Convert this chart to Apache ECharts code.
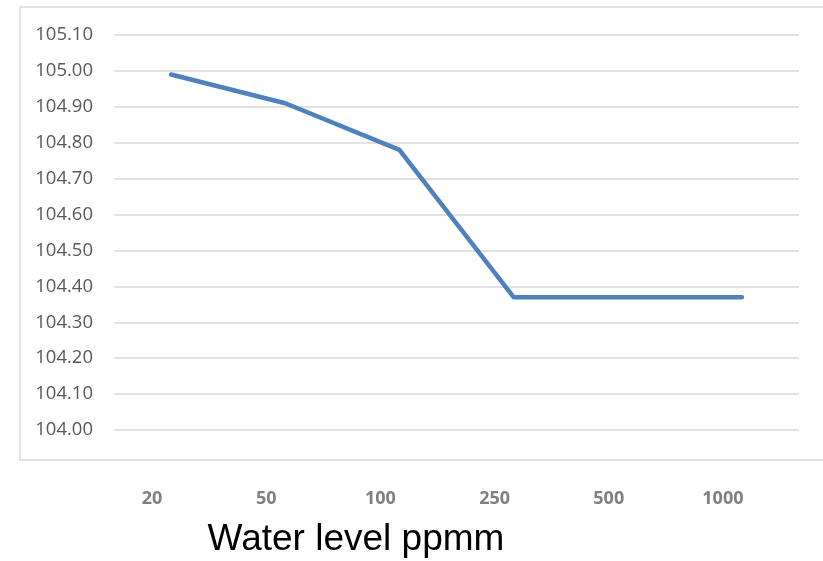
<!DOCTYPE html>
<html>
<head>
<meta charset="utf-8">
<script src="https://cdn.jsdelivr.net/npm/echarts@6/dist/echarts.min.js"></script>
<style>
  html, body { margin: 0; padding: 0; background: #ffffff; }
  #chart { width: 823px; height: 561px; }
</style>
</head>
<body>
<div id="chart"></div>
<script>
// Water level categories (ppmm) and measured values
const waterLevels = ['20', '50', '100', '250', '500', '1000'];
const measuredValues = [104.99, 104.91, 104.78, 104.37, 104.37, 104.37];
const yMin = 104.0;
const yMax = 105.1;
const yStep = 0.1;
const axisTitle = 'Water level ppmm';

const chart = echarts.init(document.getElementById('chart'), null, { renderer: 'canvas' });

chart.setOption({
  backgroundColor: '#ffffff',
  animation: false,
  grid: { left: 114, right: 24, top: 35, bottom: 131 },
  xAxis: {
    type: 'category',
    data: waterLevels,
    boundaryGap: true,
    axisLine: { show: false },
    axisTick: { show: false },
    axisLabel: {
      margin: 60,
      padding: [0, 38, 0, 0],
      color: '#7f7f7f',
      fontFamily: 'Open Sans',
      fontWeight: 'bold',
      fontSize: 18
    },
    splitLine: { show: false }
  },
  yAxis: {
    type: 'value',
    min: yMin,
    max: yMax,
    interval: yStep,
    axisLine: { show: false },
    axisTick: { show: false },
    axisLabel: {
      margin: 21,
      color: '#595959',
      fontFamily: 'Open Sans',
      fontSize: 18.5,
      formatter: v => v.toFixed(2)
    },
    splitLine: { lineStyle: { color: '#d9d9d9', width: 1.5 } }
  },
  series: [{
    type: 'line',
    data: measuredValues,
    symbol: 'none',
    lineStyle: { color: '#4f81bd', width: 4.5, cap: 'round', join: 'round' }
  }],
  graphic: [
    {
      type: 'rect',
      shape: { x: 20, y: 7, width: 812, height: 453 },
      style: { fill: 'none', stroke: '#d9d9d9', lineWidth: 1.5 },
      silent: true,
      z: -1
    },
    {
      type: 'text',
      x: 356,
      y: 540,
      style: {
        text: axisTitle,
        fill: '#000000',
        font: '37px "Liberation Sans", Arial, sans-serif',
        align: 'center',
        verticalAlign: 'middle'
      }
    }
  ]
});
</script>
</body>
</html>
